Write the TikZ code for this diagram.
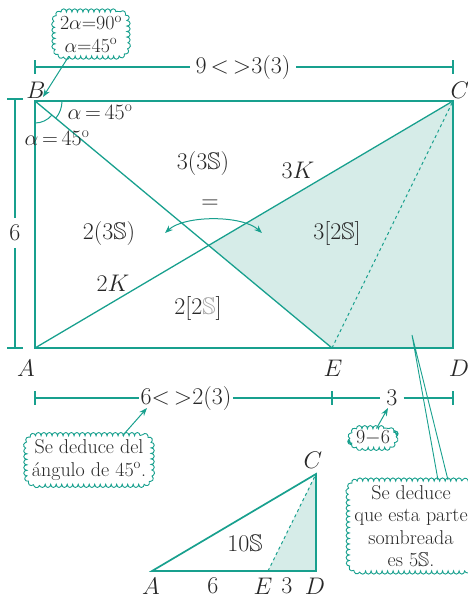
\documentclass[tikz,border=0pt]{standalone}
\usepackage{fix-cm}
\usepackage{amsmath,amssymb}
\usepackage{fontspec}
\usetikzlibrary{calc,shapes,arrows,arrows.meta,positioning,decorations.pathmorphing}
\definecolor{verde}{RGB}{24,160,142}
\definecolor{sombra}{RGB}{214,236,232}
\definecolor{tinta}{RGB}{40,40,40}
\tikzset{
 lado/.style={verde, line width=1.7pt},
 diag/.style={verde, line width=1.3pt},
 cota/.style={verde, line width=1.1pt},
 fina/.style={verde, line width=1pt},
 rot/.style={text=tinta, font=\fontsize{24}{27}\selectfont, inner sep=1pt},
 nube/.style={rounded corners=11pt, align=center, text=tinta,
   font=\fontsize{20}{22.5}\selectfont, inner xsep=5pt, inner ysep=4pt,
   postaction={draw=verde, line width=0.9pt, sharp corners, decorate,
   decoration={bumps, mirror, segment length=11pt, amplitude=3.2pt}}},
 flecha/.style={verde, line width=1pt, -{Stealth[length=8pt,width=6pt]}},
}
\begin{document}
\begin{tikzpicture}[x=1pt, y=-1pt]
 \useasboundingbox (0,0) rectangle (468,598);
 \coordinate (A) at (35,348);
 \coordinate (B) at (35,101);
 \coordinate (C) at (453,101);
 \coordinate (D) at (453,348);
 \coordinate (E) at (332,348);
 \coordinate (X) at (intersection of A--C and B--E);
 \fill[sombra] (X) -- (C) -- (D) -- (E) -- cycle;
 \draw[lado] (A) -- (B) -- (C) -- (D) -- cycle;
 \draw[diag] (A) -- (C);
 \draw[diag] (B) -- (E);
 \draw[fina, dashed] (E) -- (C);
 \draw[fina] (B) ++(27,0) arc[start angle=0, end angle=40, radius=27];
 \draw[fina] (B) ++(40:22) arc[start angle=40, end angle=90, radius=22];

 \node[rot] (lB) at (36,90) {$B$};
 \node[rot] (lC) at (460,90) {$C$};
 \node[rot] (lA) at (26,368) {$A$};
 \node[rot] (lE) at (333,368) {$E$};
 \node[rot] (lD) at (459,368) {$D$};
 \node[rot, inner sep=0pt, font=\fontsize{22}{24}\selectfont] (al1) at (100,112) {$\alpha{\,=\,}45^{\mathrm{o}}$};
 \node[rot, inner sep=0pt, font=\fontsize{22}{24}\selectfont] (al2) at (57,138) {$\alpha{\,=\,}45^{\mathrm{o}}$};
 \node[rot] (s1) at (203,163) {$3(3\mathbb{S})$};
 \node[rot] (k3) at (298,170) {$3K$};
 \node[rot] (eq) at (210,204) {$=$};
 \node[rot] (s2) at (109,233) {$2(3\mathbb{S})$};
 \node[rot] (s3) at (337,233) {$3[2\mathbb{S}]$};
 \node[rot] (k2) at (113,283) {$2K$};
 \node[rot] (s4) at (198,308) {$2[2{\color{gray!70}\mathbb{S}}]$};
 \coordinate (f1) at (165,233);
 \coordinate (f2) at (262,233);
 \draw[fina, {Stealth[length=8pt,width=6pt]}-{Stealth[length=8pt,width=6pt]}] (f1) .. controls (185,215) and (242,215) .. (f2);

 \coordinate (t1) at (35,67);
 \coordinate (t2) at (453,67);
 \node[rot, inner xsep=6pt] (c9) at (243,67) {$9\,{<}\,{>}3(3)$};
 \draw[cota] (t1) -- (c9) (c9) -- (t2);
 \foreach \p in {t1,t2}
  \draw[cota] ($(\p)+(0,-7)$) -- ($(\p)+(0,7)$);
 \coordinate (l1) at (15,99);
 \coordinate (l2) at (15,348);
 \node[rot, inner ysep=7pt] (c6) at (15,233) {$6$};
 \draw[cota] (l1) -- (c6) (c6) -- (l2);
 \foreach \p in {l1,l2}
  \draw[cota] ($(\p)+(-8,0)$) -- ($(\p)+(8,0)$);
 \coordinate (b1) at (35,398);
 \coordinate (b2) at (332,398);
 \coordinate (b3) at (453,398);
 \node[rot, inner xsep=2pt] (c62) at (186,398) {$6{<}\,{>}2(3)$};
 \node[rot, inner xsep=6pt] (c3) at (392,398) {$3$};
 \draw[cota] (b1) -- (c62) (c62) -- (b2) -- (c3) (c3) -- (b3);
 \foreach \p in {b1,b2,b3}
  \draw[cota] ($(\p)+(0,-7)$) -- ($(\p)+(0,7)$);

 \node[nube] (n1) at (91,34) {$2\alpha{=}90^{\mathrm{o}}$\\$\alpha{=}45^{\mathrm{o}}$};
 \coordinate (pB) at (43,97);
 \draw[flecha] (n1.225) -- (pB);
 \node[nube] (n2) at (89,460) {Se deduce del\\ángulo de 45\textsuperscript{o}.};
 \coordinate (p6) at (147,408);
 \draw[flecha] (n2.36) -- (p6);
 \node[nube, inner ysep=2pt] (n3) at (373,438) {$9{-}6$};
 \coordinate (p3) at (388,408);
 \draw[flecha] (n3.70) -- (p3);
 \node[nube] (n4) at (411,526) {Se deduce\\que esta parte\\sombreada\\es 5$\mathbb{S}$.};
 \coordinate (pS) at (412,335);
 \coordinate (q1) at (438,480);
 \coordinate (q2) at (448,480);
 \draw[verde, line width=0.9pt] (q1) -- (pS) -- (q2);

 \coordinate (a) at (152,571);
 \coordinate (d) at (316,571);
 \coordinate (c) at (316,474);
 \coordinate (e) at (268,571);
 \fill[sombra] (e) -- (d) -- (c) -- cycle;
 \draw[lado] (a) -- (d) -- (c) -- cycle;
 \draw[fina, dashed] (e) -- (c);
 \node[rot] (tc) at (313,460) {$C$};
 \node[rot, inner sep=0pt] (ta) at (151,586) {$A$};
 \node[rot, inner sep=0pt] (t6) at (213,586) {$6$};
 \node[rot, inner sep=0pt] (te) at (263,586) {$E$};
 \node[rot, inner sep=0pt] (t3) at (287,586) {$3$};
 \node[rot, inner sep=0pt] (td) at (315,586) {$D$};
 \node[rot] (s10) at (245,543) {$10\mathbb{S}$};
\end{tikzpicture}
\end{document}
